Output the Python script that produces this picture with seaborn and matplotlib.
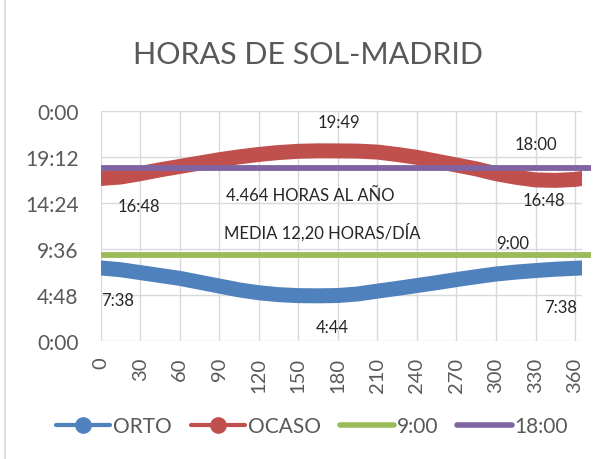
import numpy as np
import pandas as pd
import matplotlib
matplotlib.use("Agg")
import matplotlib.pyplot as plt
import seaborn as sns
from matplotlib.lines import Line2D
from matplotlib.patches import Rectangle

# Day of the year
days = [0, 15, 30, 45, 60, 75, 90, 105, 120, 135, 150, 165, 180,
        195, 210, 225, 240, 255, 270, 285, 300, 315, 330, 345, 360, 365]

# Sunrise (ORTO) and sunset (OCASO), in hours
orto = [7.63, 7.45, 7.15, 6.85, 6.55, 6.15, 5.75, 5.35, 5.05, 4.85, 4.75, 4.73, 4.76,
        4.92, 5.22, 5.5, 5.8, 6.1, 6.42, 6.72, 7.0, 7.2, 7.36, 7.5, 7.6, 7.63]
ocaso = [16.95, 17.1, 17.45, 17.85, 18.2, 18.55, 18.9, 19.2, 19.45, 19.65, 19.78, 19.83, 19.82,
         19.8, 19.7, 19.45, 19.15, 18.75, 18.35, 17.95, 17.45, 17.08, 16.8, 16.75, 16.85, 16.95]

# Reference lines
hline_days = [0, 372]
nueve = [9.0, 9.0]
dieciocho = [18.0, 18.0]

x_ticks = list(range(0, 361, 30))
y_ticks = [0, 4.8, 9.6, 14.4, 19.2, 24]
y_labels = ["0:00", "4:48", "9:36", "14:24", "19:12", "0:00"]

# Text labels on the chart: (text, day, hour)
etiquetas = [
    ("19:49", 181, 22.8),
    ("18:00", 330, 20.55),
    ("16:48", 29, 14.1),
    ("16:48", 336, 14.7),
    ("4.464 HORAS AL AÑO", 159, 15.25),
    ("MEDIA 12,20 HORAS/DÍA", 168, 11.4),
    ("9:00", 313, 10.25),
    ("7:38", 13, 4.33),
    ("7:38", 349, 3.57),
    ("4:44", 176, 1.5),
]

colors = {"ORTO": "#4F81BD", "OCASO": "#C0504D", "9:00": "#9BBB59", "18:00": "#8064A2"}

sns.set_style("whitegrid", {"grid.color": "#D9D9D9", "axes.edgecolor": "#D9D9D9"})
plt.rcParams["font.family"] = ["Lato", "DejaVu Sans"]

df = pd.DataFrame({"dia": days, "ORTO": orto, "OCASO": ocaso})

fig = plt.figure(figsize=(5.99, 4.6), dpi=100)
ax = fig.add_axes([0.168, 0.256, 0.803, 0.501])

for name in ["ORTO", "OCASO"]:
    sns.lineplot(data=df, x="dia", y=name, ax=ax, color=colors[name], linewidth=10.8,
                 solid_capstyle="round", solid_joinstyle="round", zorder=3)

hl = pd.DataFrame({"dia": hline_days, "9:00": nueve, "18:00": dieciocho})
for name in ["9:00", "18:00"]:
    sns.lineplot(data=hl, x="dia", y=name, ax=ax, color=colors[name], linewidth=4.2,
                 solid_capstyle="butt", zorder=4, clip_on=False)

ax.set_xlim(0, 365)
ax.set_ylim(0, 24)
ax.set_xticks(x_ticks)
ax.set_xticklabels([str(t) for t in x_ticks], rotation=90, fontsize=14.5, color="#595959")
ax.set_yticks(y_ticks)
ax.set_yticklabels(y_labels, fontsize=15, color="#595959")
ax.tick_params(axis="y", length=0, pad=16)
ax.tick_params(axis="x", length=0, pad=11)
ax.set_xlabel("")
ax.set_ylabel("")
for s in ax.spines.values():
    s.set_visible(False)
ax.grid(True, color="#D9D9D9", linewidth=1)

for txt, d, h in etiquetas:
    ax.text(d, h, txt, ha="center", va="center", fontsize=12, color="#262626", zorder=5)

fig.text(0.514, 0.880, "HORAS DE SOL-MADRID", ha="center", va="center",
         fontsize=22, color="#595959")

handles = [
    Line2D([], [], color=colors["ORTO"], lw=3, marker="o", markersize=11),
    Line2D([], [], color=colors["OCASO"], lw=3, marker="o", markersize=11),
    Line2D([], [], color=colors["9:00"], lw=4, solid_capstyle="round"),
    Line2D([], [], color=colors["18:00"], lw=4, solid_capstyle="round"),
]
fig.legend(handles, ["ORTO", "OCASO", "9:00", "18:00"], loc="center",
           bbox_to_anchor=(0.521, 0.072), ncol=4, frameon=False, fontsize=15,
           handlelength=2.6, columnspacing=0.9, handletextpad=0.15,
           labelcolor="#595959")

fig.patches.append(Rectangle((0.009, -0.01), 1.2, 1.2, transform=fig.transFigure,
                             fill=False, edgecolor="#D9D9D9", linewidth=1.2))

fig.savefig("out.png", dpi=100)
